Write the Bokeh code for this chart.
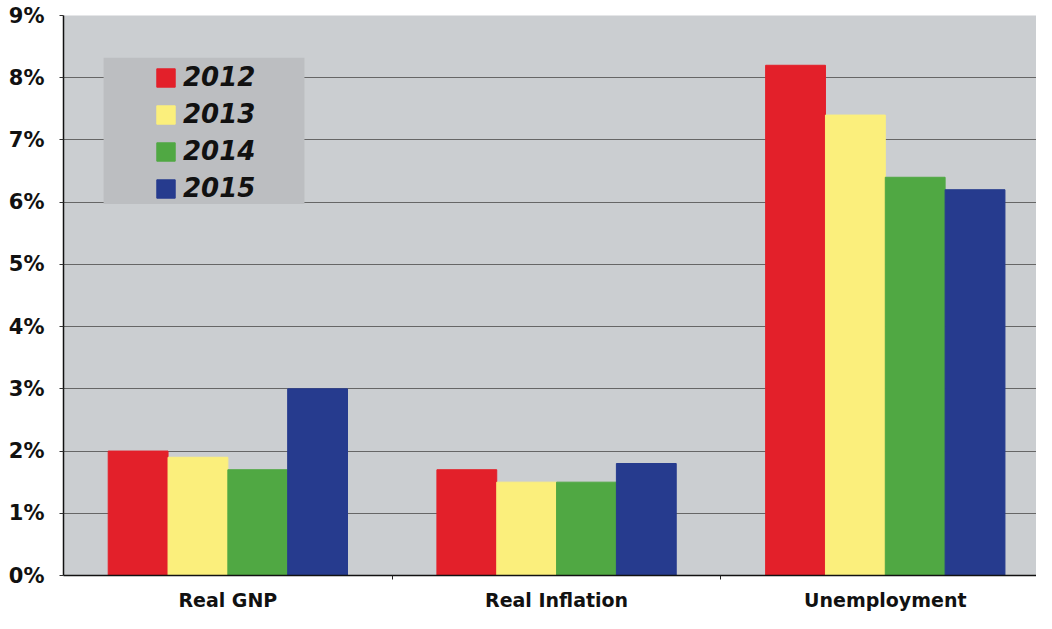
from bokeh.plotting import figure
from bokeh.models import FixedTicker, BoxAnnotation, Legend, LegendItem, Range1d, ColumnDataSource
from bokeh.embed import file_html
from bokeh.resources import INLINE

categories = ["Real GNP", "Real Inflation", "Unemployment"]
years = ["2012", "2013", "2014", "2015"]
v2012 = [2.0, 1.7, 8.2]
v2013 = [1.9, 1.5, 7.4]
v2014 = [1.7, 1.5, 6.4]
v2015 = [3.0, 1.8, 6.2]
y_ticks = [0, 1, 2, 3, 4, 5, 6, 7, 8, 9]
y_tick_labels = ["0%", "1%", "2%", "3%", "4%", "5%", "6%", "7%", "8%", "9%"]
colors = ["#e3202a", "#fbef7c", "#50a843", "#263b8e"]

series = [v2012, v2013, v2014, v2015]
bar_w = 0.182
offsets = [-1.5 * bar_w, -0.5 * bar_w, 0.5 * bar_w, 1.5 * bar_w]
centers = [i + 0.5 for i in range(len(categories))]

p = figure(width=1036, height=613, output_backend="svg", toolbar_location=None,
           x_range=Range1d(0, 2.96), y_range=Range1d(0, 9),
           min_border_left=63, min_border_top=15, min_border_right=0, min_border_bottom=38)

p.background_fill_color = "#cbced1"
p.border_fill_color = "white"
p.outline_line_color = None

# legend background box
p.add_layout(BoxAnnotation(left=0.122, right=0.733, bottom=5.97, top=8.32,
                           fill_color="#bcbec1", fill_alpha=1.0, line_color=None, level="underlay"))

renderers = []
for vals, off, col in zip(series, offsets, colors):
    src = ColumnDataSource(dict(x=[c + off for c in centers], top=vals))
    r = p.vbar(x="x", top="top", width=bar_w, bottom=0, source=src,
               fill_color=col, line_color=col, line_width=1)
    renderers.append(r)

legend = Legend(items=[LegendItem(label=y, renderers=[r]) for y, r in zip(years, renderers)],
                location=(91, 372), padding=0, margin=0, spacing=7,
                glyph_width=23, glyph_height=23, label_height=29, label_standoff=6,
                background_fill_alpha=0, border_line_color=None,
                label_text_font="DejaVu Sans", label_text_font_style="bold italic",
                label_text_font_size="26px", label_text_color="#111111")
p.add_layout(legend)

# axes
p.xaxis.ticker = FixedTicker(ticks=centers, minor_ticks=[1, 2])
p.xaxis.major_label_overrides = {c: lab for c, lab in zip(centers, categories)}
p.xaxis.major_tick_line_color = None
p.xaxis.minor_tick_out = 4
p.xaxis.minor_tick_in = 0
p.xaxis.minor_tick_line_color = "#222222"
p.xaxis.axis_line_color = "#111111"
p.xaxis.axis_line_width = 1.5
p.xaxis.major_label_standoff = 7
p.xaxis.major_label_text_font = "DejaVu Sans"
p.xaxis.major_label_text_font_style = "bold"
p.xaxis.major_label_text_font_size = "19px"
p.xaxis.major_label_text_color = "#111111"

p.yaxis.ticker = FixedTicker(ticks=y_ticks)
p.yaxis.major_label_overrides = {t: lab for t, lab in zip(y_ticks, y_tick_labels)}
p.yaxis.minor_tick_line_color = None
p.yaxis.major_tick_out = 4
p.yaxis.major_tick_in = 0
p.yaxis.major_tick_line_color = "#333333"
p.yaxis.axis_line_color = "#111111"
p.yaxis.axis_line_width = 1.5
p.yaxis.major_label_standoff = 15
p.yaxis.major_label_text_font = "DejaVu Sans"
p.yaxis.major_label_text_font_style = "bold"
p.yaxis.major_label_text_font_size = "21px"
p.yaxis.major_label_text_color = "#111111"

p.xgrid.grid_line_color = None
p.ygrid.ticker = FixedTicker(ticks=y_ticks[1:])
p.ygrid.grid_line_color = "#666666"
p.ygrid.grid_line_width = 1
p.ygrid.level = "underlay"

open("out.html", "w").write(file_html(p, INLINE))
